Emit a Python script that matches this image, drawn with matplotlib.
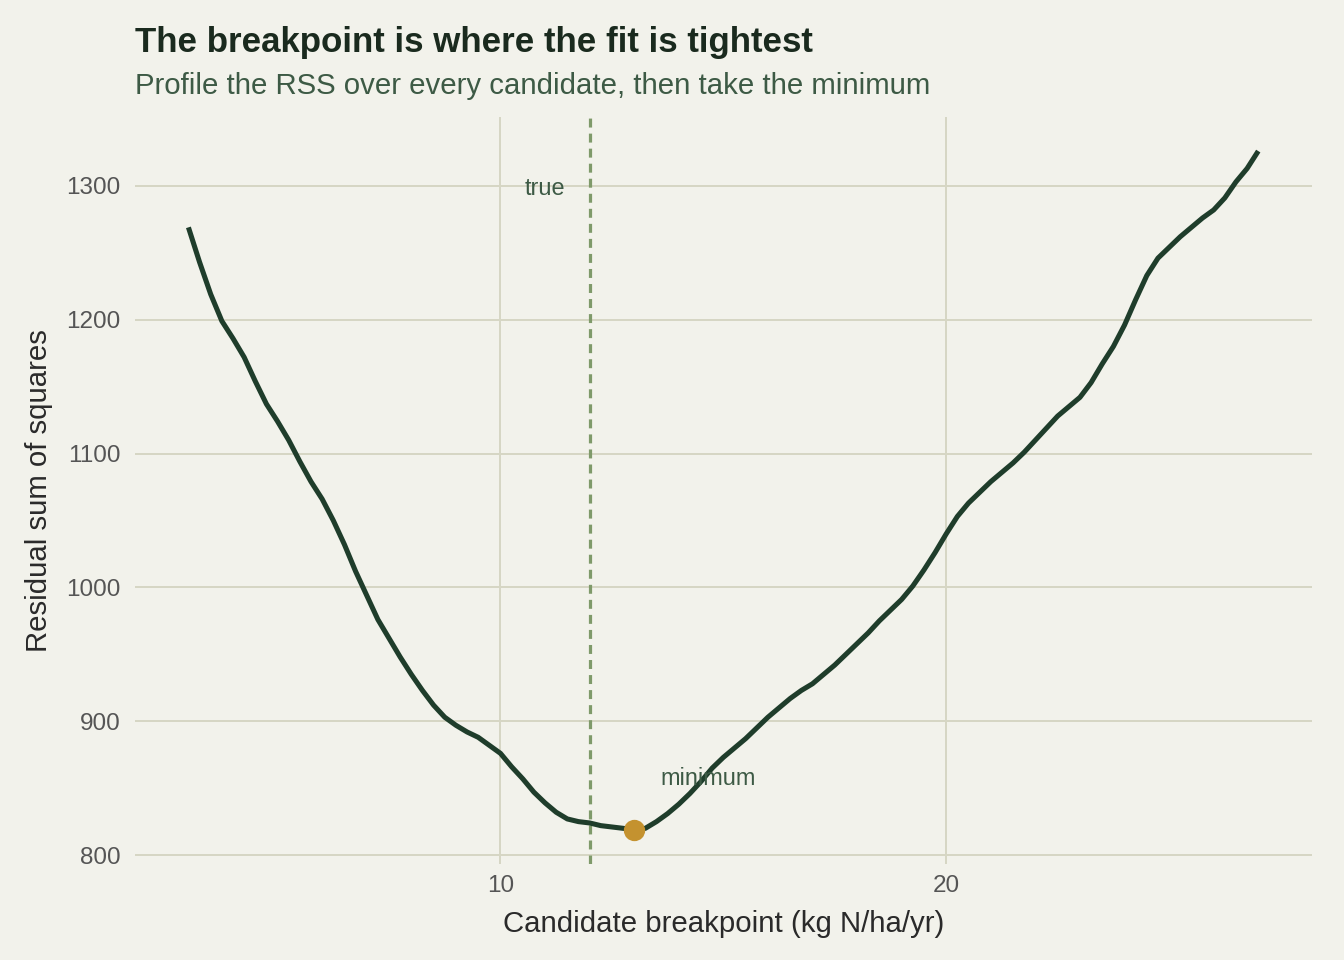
import numpy as np
import matplotlib
matplotlib.use("Agg")
import matplotlib.pyplot as plt

plt.rcParams['font.family'] = ['Liberation Sans', 'DejaVu Sans']

# RSS profile, candidates every 0.25
breakpoint = list(np.arange(3.0, 27.01, 0.25))
rss = [1269, 1243, 1219, 1199, 1186, 1172, 1154, 1137, 1124, 1110, 1094, 1079,
       1066, 1050, 1032, 1012, 994, 976, 962, 948, 935, 923, 912, 903,
       897, 892, 888, 882, 876, 866, 857, 847, 839, 832, 827, 825,
       824, 822, 821, 820, 819, 820, 825, 831, 838, 846, 855, 865,
       873, 880, 887, 895, 903, 910, 917, 923, 928, 935, 942, 950,
       958, 966, 975, 983, 991, 1001, 1013, 1026, 1040, 1053, 1063, 1071,
       1079, 1086, 1093, 1101, 1110, 1119, 1128, 1135, 1142, 1153, 1167, 1180,
       1196, 1215, 1233, 1246, 1254, 1262, 1269, 1276, 1282, 1291, 1303, 1313,
       1326]
true_bp = 12.0
min_bp = 13.0
min_rss = 818.7

bg = '#F2F2EB'
grid_col = '#D6D6C4'
line_col = '#1F3D2B'

fig = plt.figure(figsize=(7, 5), dpi=192, facecolor=bg)
ax = fig.add_axes([0.1004, 0.1, 0.8756, 0.778], facecolor=bg)

ax.axvline(true_bp, color='#7F9A6A', lw=1.2, dashes=(2.8, 1.9), zorder=2)
ax.plot(breakpoint, rss, color=line_col, lw=1.9, zorder=3,
        solid_capstyle='butt', solid_joinstyle='round')
ax.plot([min_bp], [min_rss], 'o', color='#C4922F', ms=7, zorder=4)

ax.text(true_bp - 0.55, 1298, 'true', ha='right', va='center',
        fontsize=8.8, color='#3D5A45')
ax.text(min_bp + 0.6, 857, 'minimum', ha='left', va='center',
        fontsize=8.8, color='#3D5A45')

xr = max(breakpoint) - min(breakpoint)
ax.set_xlim(min(breakpoint) - 0.05 * xr, max(breakpoint) + 0.05 * xr)
ymin, ymax = min(min(rss), min_rss), max(rss)
yr = ymax - ymin
ax.set_ylim(ymin - 0.05 * yr, ymax + 0.05 * yr)

ax.set_xticks([10, 20])
ax.set_yticks([800, 900, 1000, 1100, 1200, 1300])
ax.grid(True, color=grid_col, lw=0.75)
ax.set_axisbelow(True)
for s in ax.spines.values():
    s.set_visible(False)
ax.tick_params(length=0, labelsize=9.1, labelcolor='#555555', pad=4)
ax.tick_params(axis='y', pad=5.5)

ax.set_xlabel('Candidate breakpoint (kg N/ha/yr)', fontsize=11, color='#2A2A2A', labelpad=5)
ax.set_ylabel('Residual sum of squares', fontsize=11, color='#2A2A2A', labelpad=5)

fig.text(0.1004, 0.956, 'The breakpoint is where the fit is tightest',
         fontsize=13.1, fontweight='bold', color='#1A2A1E', ha='left', va='center')
fig.text(0.1004, 0.910, 'Profile the RSS over every candidate, then take the minimum',
         fontsize=11, color='#3D5A45', ha='left', va='center')

fig.savefig('out.png', dpi=192, facecolor=bg)
